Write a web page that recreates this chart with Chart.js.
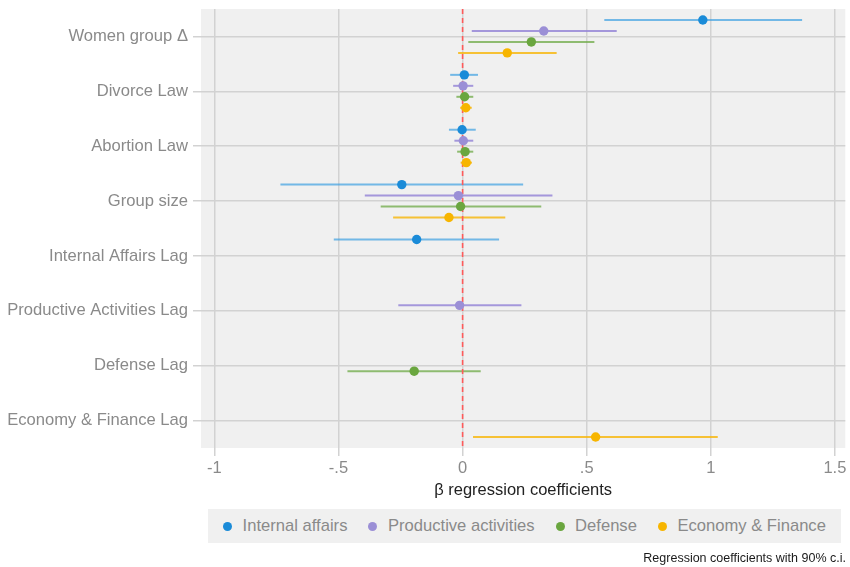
<!DOCTYPE html>
<html>
<head>
<meta charset="utf-8">
<script src="https://cdn.jsdelivr.net/npm/chart.js@4.4.1/dist/chart.umd.min.js"></script>
<style>
  body { margin: 0; background: #fff; font-family: "Liberation Sans", Arial, sans-serif; }
  #wrap { position: relative; width: 850px; height: 567px; }
  #legend {
    position: absolute; left: 208px; top: 509px; width: 633px; height: 34px;
    background: #f0f0f0; display: flex; align-items: center; justify-content: center;
    font-size: 16.6px; color: #8a8a8a; white-space: nowrap;
  }
  #legend .item { display: flex; align-items: center; margin: 0 10.5px; flex-shrink: 0; }
  #legend .dot { width: 9px; height: 9px; border-radius: 50%; margin-right: 10.5px; }
  #caption {
    position: absolute; right: 4px; top: 551px; font-size: 12.5px; color: #1a1a1a; white-space: nowrap;
  }
</style>
</head>
<body>
<div id="wrap">
  <canvas id="myChart"></canvas>
  <div id="legend"></div>
  <div id="caption">Regression coefficients with 90% c.i.</div>
</div>
<script>
const categories = ['Women group \u0394', 'Divorce Law', 'Abortion Law', 'Group size',
  'Internal Affairs Lag', 'Productive Activities Lag', 'Defense Lag', 'Economy & Finance Lag'];
const seriesNames = ['Internal affairs', 'Productive activities', 'Defense', 'Economy & Finance'];

// point estimates and 90% c.i. bounds, one entry per category (null = not in model)
const internalEst = [0.968, 0.007, -0.002, -0.245, -0.185, null, null, null];
const internalLo  = [0.571, -0.050, -0.055, -0.734, -0.519, null, null, null];
const internalHi  = [1.368, 0.062, 0.053, 0.244, 0.147, null, null, null];

const productiveEst = [0.327, 0.002, 0.003, -0.017, null, -0.012, null, null];
const productiveLo  = [0.037, -0.038, -0.033, -0.394, null, -0.259, null, null];
const productiveHi  = [0.621, 0.043, 0.043, 0.362, null, 0.237, null, null];

const defenseEst = [0.277, 0.008, 0.010, -0.008, null, null, -0.195, null];
const defenseLo  = [0.023, -0.025, -0.022, -0.330, null, null, -0.464, null];
const defenseHi  = [0.531, 0.043, 0.043, 0.317, null, null, 0.073, null];

const economyEst = [0.180, 0.013, 0.015, -0.055, null, null, null, 0.536];
const economyLo  = [-0.018, -0.010, -0.008, -0.280, null, null, null, 0.042];
const economyHi  = [0.379, 0.037, 0.038, 0.172, null, null, null, 1.028];

const xTicks = [-1, -0.5, 0, 0.5, 1, 1.5];

const pointColors = ['#1a8bd8', '#9b8fd6', '#6aa63f', '#f7b500'];
const lineColors = ['rgba(60,160,225,0.7)', 'rgba(150,135,215,0.85)', 'rgba(110,170,70,0.75)', 'rgba(247,185,20,0.85)'];
const dodge = [-0.3, -0.1, 0.1, 0.3];

const allEst = [internalEst, productiveEst, defenseEst, economyEst];
const allLo = [internalLo, productiveLo, defenseLo, economyLo];
const allHi = [internalHi, productiveHi, defenseHi, economyHi];

const datasets = seriesNames.map((name, s) => {
  let pts = [];
  categories.forEach((c, i) => {
    if (allEst[s][i] !== null) {
      pts.push({ x: allEst[s][i], y: i + dodge[s], lo: allLo[s][i], hi: allHi[s][i] });
    }
  });
  return {
    label: name,
    data: pts,
    backgroundColor: pointColors[s],
    borderColor: pointColors[s],
    lineColor: lineColors[s],
    pointRadius: 4.7,
    pointHoverRadius: 4.7,
    borderWidth: 0
  };
});

// gray panel, error bars and the red zero line
const panel = {
  id: 'panel',
  beforeDraw(chart) {
    const a = chart.chartArea;
    const c = chart.ctx;
    c.save();
    c.fillStyle = '#f0f0f0';
    c.fillRect(a.left, a.top, a.right - a.left, a.bottom - a.top);
    c.restore();
  },
  beforeDatasetsDraw(chart) {
    const c = chart.ctx;
    const xs = chart.scales.x, ys = chart.scales.y;
    c.save();
    chart.data.datasets.forEach((ds) => {
      c.strokeStyle = ds.lineColor;
      c.lineWidth = 2;
      ds.data.forEach((p) => {
        const y = ys.getPixelForValue(p.y);
        c.beginPath();
        c.moveTo(xs.getPixelForValue(p.lo), y);
        c.lineTo(xs.getPixelForValue(p.hi), y);
        c.stroke();
      });
    });
    const x0 = xs.getPixelForValue(0);
    c.strokeStyle = '#ff5a5a';
    c.lineWidth = 1.6;
    c.setLineDash([5, 4]);
    c.beginPath();
    c.moveTo(x0, chart.chartArea.top);
    c.lineTo(x0, chart.chartArea.bottom);
    c.stroke();
    c.restore();
  }
};

const ctx = document.getElementById('myChart');
let chart = new Chart(ctx, {
  type: 'scatter',
  data: { datasets: datasets },
  plugins: [panel],
  options: {
    responsive: true,
    maintainAspectRatio: false,
    animation: false,
    layout: { padding: { top: 9, right: 4, bottom: 67, left: 0 } },
    plugins: { legend: { display: false }, tooltip: { enabled: false } },
    scales: {
      x: {
        type: 'linear',
        min: -1.054,
        max: 1.542,
        afterBuildTicks: (scale) => { scale.ticks = xTicks.map(v => ({ value: v })); },
        afterFit: (scale) => { scale.height = 52; },
        border: { display: false },
        grid: { color: '#d2d2d2', lineWidth: 1.5, tickLength: 8 },
        ticks: {
          color: '#8a8a8a',
          font: { family: 'Liberation Sans', size: 16.5 },
          padding: 3,
          callback: (v) => v === 0 ? '0' : String(v).replace('0.', '.')
        },
        title: {
          display: true,
          text: '\u03b2 regression coefficients',
          color: '#222',
          font: { family: 'Liberation Sans', size: 16.5 },
          padding: { top: 0, bottom: 0 }
        }
      },
      y: {
        type: 'linear',
        reverse: true,
        min: -0.5,
        max: 7.5,
        afterBuildTicks: (scale) => { scale.ticks = categories.map((c, i) => ({ value: i })); },
        afterFit: (scale) => {
          scale.width = 201;
          scale.paddingTop = 0;
          scale.paddingBottom = 0;
        },
        border: { display: false },
        grid: { color: '#d2d2d2', lineWidth: 1.5, tickLength: 8 },
        ticks: {
          color: '#8a8a8a',
          autoSkip: false,
          font: { family: 'Liberation Sans', size: 16.6 },
          padding: 5,
          callback: (v) => categories[v]
        }
      }
    }
  }
});

let legend = document.getElementById('legend');
seriesNames.forEach((name, s) => {
  legend.innerHTML += '<div class="item"><div class="dot" style="background:' + pointColors[s] + '"></div>' + name + '</div>';
});
</script>
</body>
</html>
